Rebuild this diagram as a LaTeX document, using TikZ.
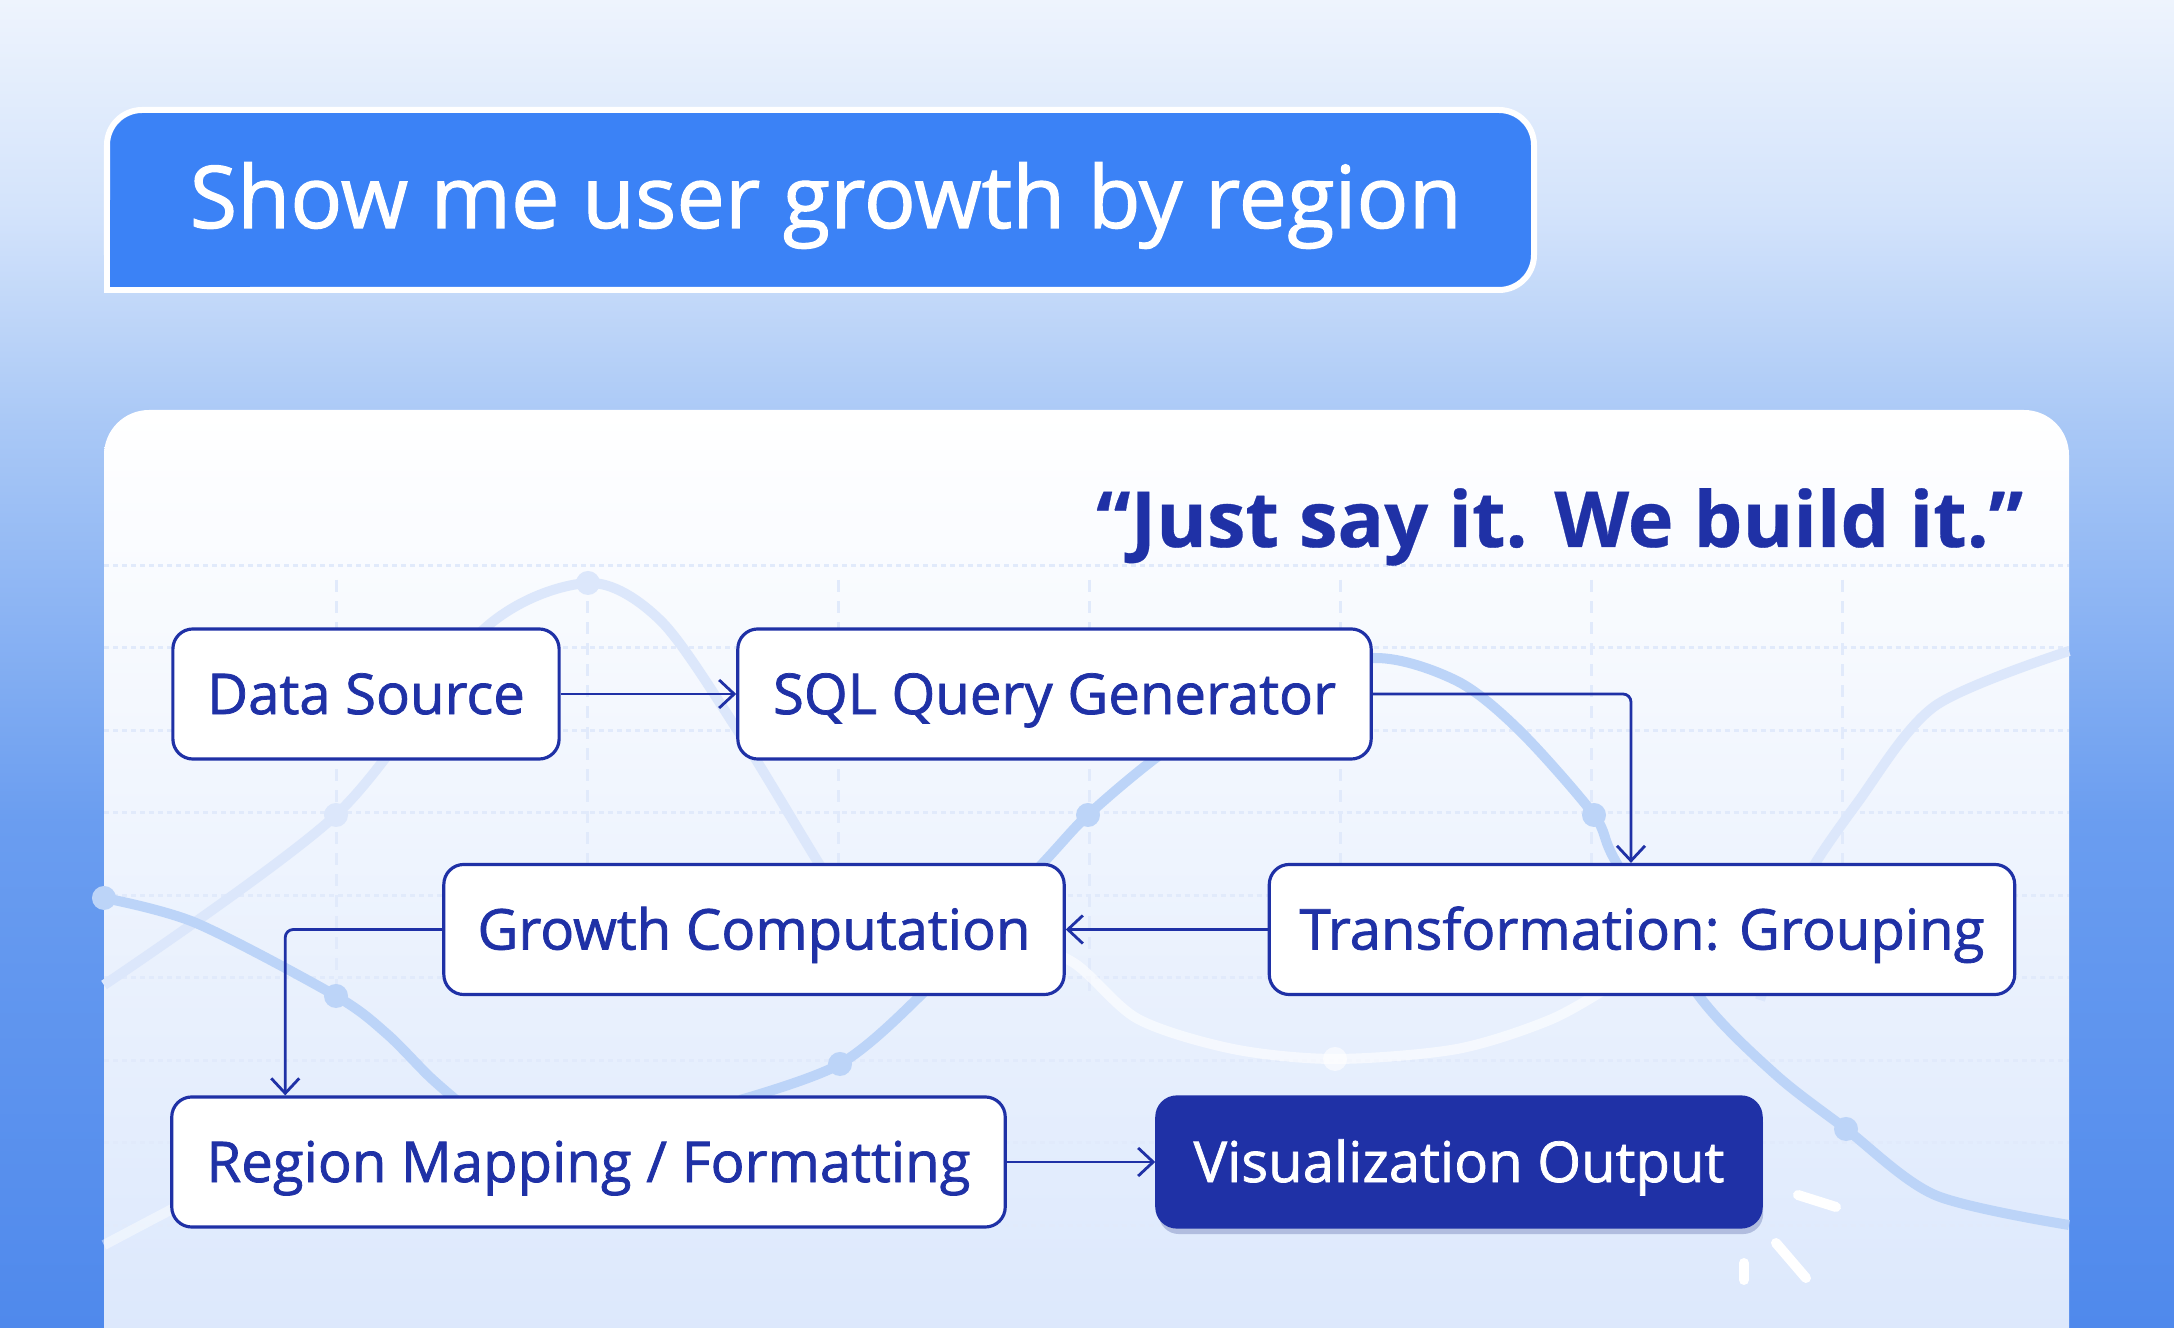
\documentclass[tikz,border=0pt]{standalone}
\usepackage{fontspec}
\setmainfont{Open Sans}[BoldFeatures={FakeBold=0.4}]
% Open Sans has no medium cut: thicken the regular one a little
\newfontfamily\medfont{Open Sans}[FakeBold=1.3]
\usepackage{tikz}
\usetikzlibrary{
  arrows.meta,%
  % soft shadow under the output box
  shadows,%
  calc,%
  positioning
}
\definecolor{navy}{HTML}{1F31A6}
\definecolor{askblue}{HTML}{3B82F6}
\definecolor{bgtop}{HTML}{EEF4FD}
\definecolor{bgsoft}{HTML}{D3E3FB}
\definecolor{bgmid}{HTML}{A9C8F6}
\definecolor{bglow}{HTML}{6A9DF0}
\definecolor{bgbot}{HTML}{4F89EC}
\definecolor{cardbot}{HTML}{D9E6FC}
\definecolor{gridblue}{HTML}{E1EAFB}
\definecolor{lineblue}{HTML}{BCD4F8}
\definecolor{paleblue}{HTML}{DCE7FB}
\definecolor{shadowblue}{HTML}{5A6AA8}
% sky behind the card, darker towards the bottom
\pgfdeclareverticalshading{skyfade}{100bp}{color(0bp)=(bgbot); color(25bp)=(bgbot);
  color(44bp)=(bglow); color(59bp)=(bgmid); color(67bp)=(bgsoft);
  color(75bp)=(bgtop); color(100bp)=(bgtop)}
\tikzset{>={Straight Barb[length=1.5mm,width=2.8mm]}}
\tikzset{
  procbox/.style={draw=navy, line width=0.9pt, fill=white, rounded corners=0.2cm,
    minimum height=1.3cm, inner sep=0pt, text=navy,
    font=\medfont\fontsize{16}{19}\selectfont, text height=11.4pt, text depth=0pt},
  outbox/.style={procbox, fill=navy, text=white,
    drop shadow={shadow xshift=0.02cm, shadow yshift=-0.07cm, opacity=0.35, fill=shadowblue}},
  flow/.style={->, draw=navy, line width=0.8pt, rounded corners=0.08cm},
  bgcurve/.style={line width=0.1cm},
  gridh/.style={gridblue, line width=0.03cm, dash pattern=on 0.05cm off 0.04cm},
  gridv/.style={gridblue, line width=0.03cm, dash pattern=on 0.12cm off 0.09cm},
  spark/.style={white, line width=0.1cm, line cap=round}
}

\begin{document}
\begin{tikzpicture}[x=0.01cm, y=-0.01cm]
  \useasboundingbox (0,0) rectangle (2174,1328);
  \clip (0,0) rectangle (2174,1328);
  \shade[shading=skyfade] (0,0) rectangle (2174,1328);

  % the spoken request
  \draw[white, line width=0.06cm, fill=askblue, rounded corners=0.35cm] (107,110) rectangle (1534,290);
  \fill[askblue] (107,200) rectangle (250,290);
  \draw[white, line width=0.06cm] (107,200) -- (107,290) -- (250,290);
  \node[anchor=base west, text=white, inner sep=0pt, font=\medfont\fontsize{24.6}{30}\selectfont]
    (ask) at (189,228) {Show me user growth by region};

  % card with a faint chart behind the flow
  \shade[top color=white, bottom color=cardbot, rounded corners=0.45cm] (104,410) rectangle (2069,1420);
  \foreach \gy in {566,648,731,813,896,978,1061,1143,1226}
    \draw[gridh] (104,\gy) -- (2069,\gy);
  \foreach \gx in {336,587,838,1089,1340,1591,1842}
    \draw[gridv] (\gx,580) -- (\gx,1000);

  \draw[bgcurve, paleblue] plot[smooth] coordinates {(104,985) (336,815) (483,630) (588,583)
    (661,621) (738,731) (821,867) (880,960)};
  \draw[bgcurve, paleblue] plot[smooth] coordinates {(1760,1000) (1800,890) (1858,802) (1935,706) (2069,651)};
  \draw[bgcurve, white, opacity=0.6] plot[smooth] coordinates {(1000,930) (1074,963) (1138,1019)
    (1233,1049) (1335,1059) (1457,1049) (1552,1019) (1620,980)};
  \draw[bgcurve, white, opacity=0.45] plot[smooth] coordinates {(104,1245) (180,1205) (250,1170)};
  \draw[bgcurve, lineblue] plot[smooth] coordinates {(740,1100) (840,1064) (923,993) (1044,862)
    (1088,815) (1157,757) (1260,685) (1374,658) (1457,681) (1520,731) (1594,815) (1616,862)
    (1699,996) (1775,1074) (1846,1129) (1935,1195) (2069,1225)};
  \draw[bgcurve, lineblue] plot[smooth] coordinates {(104,898) (196,923) (336,996) (387,1034)
    (432,1079) (480,1120)};
  \foreach \p in {(840,1064),(1088,815),(1594,815),(1846,1129),(336,996),(104,898)}
    \fill[lineblue] \p circle (0.12cm);
  \foreach \p in {(336,815),(588,583)}
    \fill[paleblue] \p circle (0.12cm);
  \fill[white, opacity=0.6] (1335,1059) circle (0.12cm);

  \node[anchor=base east, text=navy, inner sep=0pt, font=\bfseries\fontsize{22}{27}\selectfont]
    (motto) at (2024,547) {“Just say it. We build it.”};

  % pipeline
  \node[procbox, minimum width=3.86cm] (src) at (366,694) {Data Source};
  \node[procbox, minimum width=6.33cm] (sql) at (1054.5,694) {SQL Query Generator};
  \node[procbox, minimum width=7.45cm] (grp) at (1642,929.5) {Transformation: Grouping};
  \node[procbox, minimum width=6.2cm] (growth) at (754,929.5) {Growth Computation};
  \node[procbox, minimum width=8.33cm] (region) at (588.5,1162) {Region Mapping / Formatting};
  \node[outbox, minimum width=6.04cm] (viz) at (1459,1162) {Visualization Output};

  \draw[flow] (src) -- (sql);
  \draw[flow] (sql.east) -| ([xshift=-0.11cm]grp.north);
  \draw[flow] (grp) -- (growth);
  \draw[flow] (growth.west) -| ([xshift=1.15cm]region.north west);
  \draw[flow] (region) -- (viz);

  \draw[spark] (1798,1195) -- (1836,1207);
  \draw[spark] (1776,1243) -- (1806,1278);
  \draw[spark] (1744,1263) -- (1744,1280);
\end{tikzpicture}
\end{document}
